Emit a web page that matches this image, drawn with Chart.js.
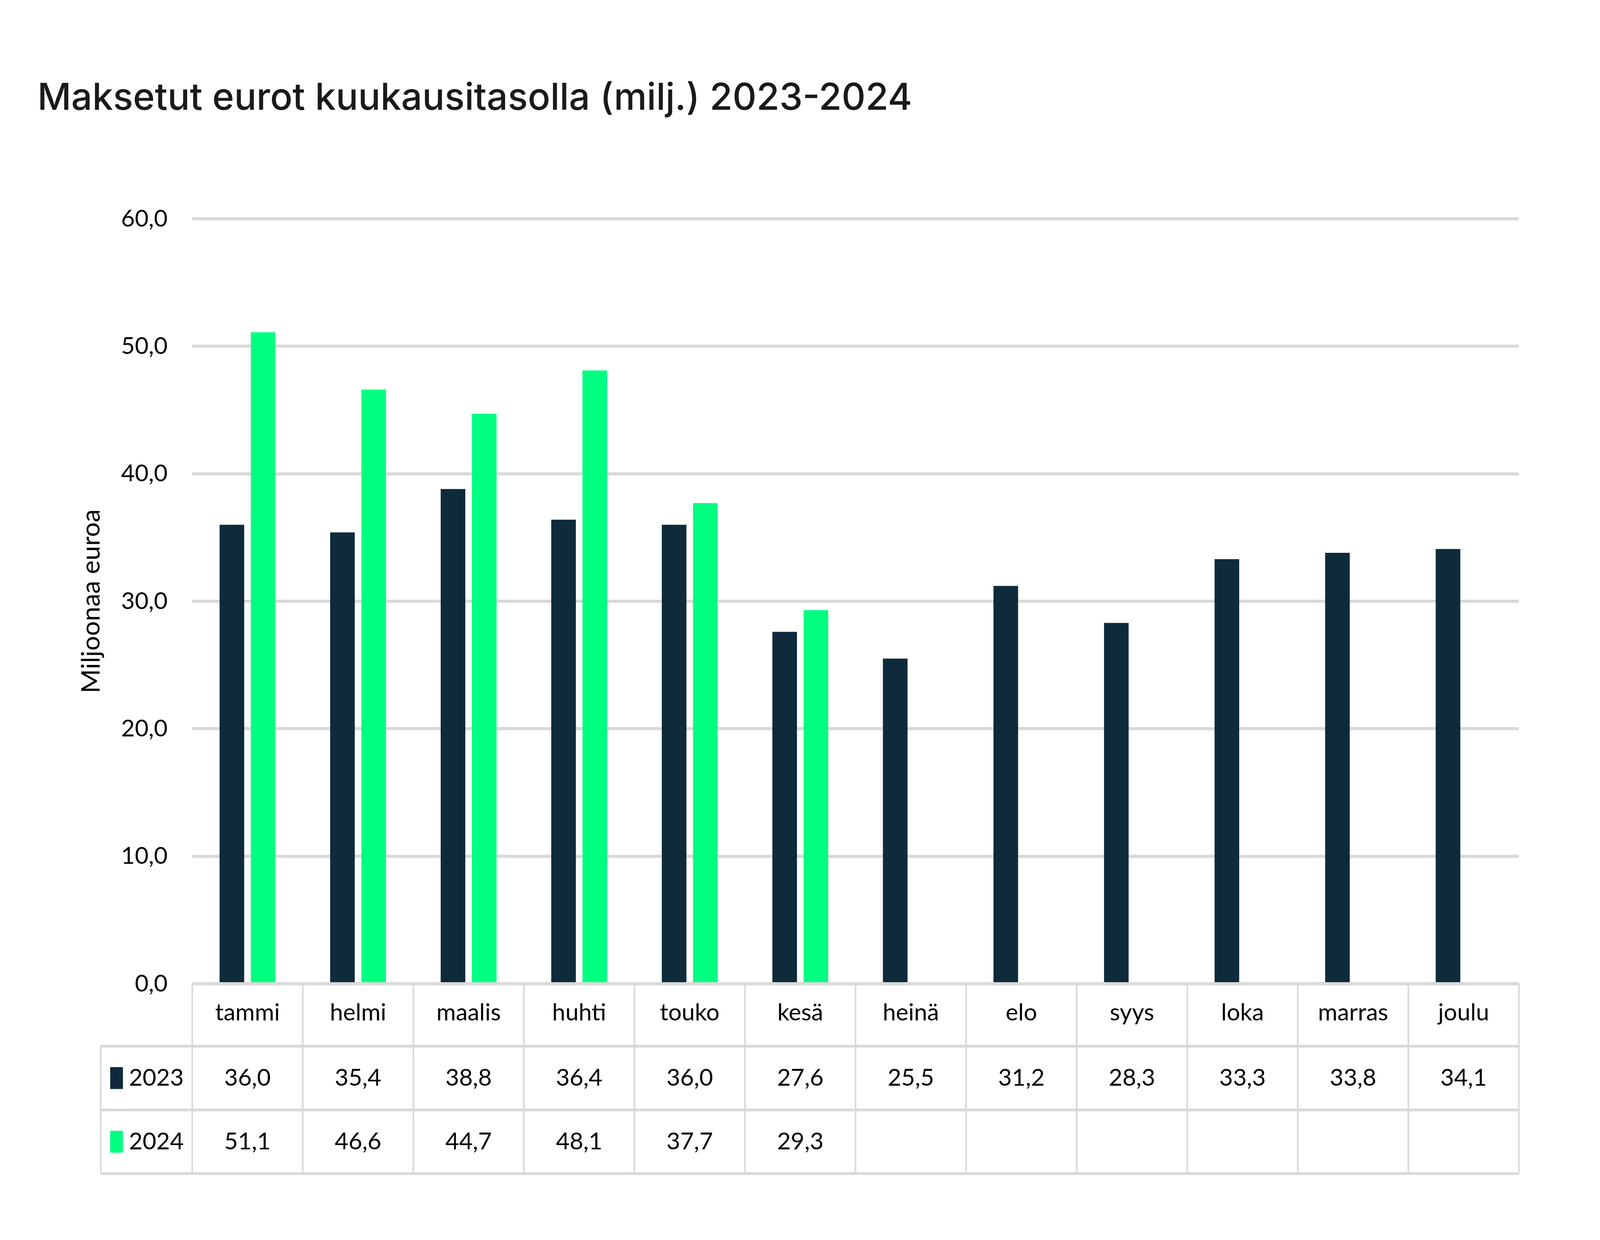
<!DOCTYPE html>
<html>
<head>
<meta charset="utf-8">
<script src="https://cdn.jsdelivr.net/npm/chart.js@4.4.1/dist/chart.umd.min.js"></script>
<style>
  html, body { margin: 0; padding: 0; background: #fff; overflow: hidden; }
  .wrap { width: 100vw; height: 100vh; }
</style>
</head>
<body>
<div class="wrap"><canvas class="chart"></canvas></div>
<script>
const months = ["tammi", "helmi", "maalis", "huhti", "touko", "kesä", "heinä", "elo", "syys", "loka", "marras", "joulu"];
const values2023 = [36.0, 35.4, 38.8, 36.4, 36.0, 27.6, 25.5, 31.2, 28.3, 33.3, 33.8, 34.1];
const values2024 = [51.1, 46.6, 44.7, 48.1, 37.7, 29.3, null, null, null, null, null, null];
const seriesNames = ["2023", "2024"];
const yTicks = [0, 10, 20, 30, 40, 50, 60];

const navy = "#0e2a3b";
const green = "#00ff80";
const lineGrey = "#d9d9d9";
const fmt = v => v.toFixed(1).replace(".", ",");

// sizes are measured on the 6767 x 3174 picture, scaled to the actual window
const SX = window.innerWidth / 6767;
const SY = window.innerHeight / 3174;
const X = v => v * SX;
const Y = v => v * SY;
const F = v => v * SX;

const titleSize = F(157);
const titlePadTop = Y(252) - titleSize * 0.6;
const titlePadBottom = Y(560) - titlePadTop - titleSize * 1.2;

// data table under the x axis, drawn from the same arrays
const dataTable = {
  id: "dataTable",
  afterDraw(chart) {
    const { ctx, chartArea, scales: { x } } = chart;
    const half = (x.getPixelForValue(1) - x.getPixelForValue(0)) / 2;
    const right = chartArea.right;
    const top = chartArea.bottom;
    const rows = [top, top + Y(160), top + Y(323), top + Y(486)];
    const legendLeft = X(426);

    ctx.save();
    ctx.strokeStyle = lineGrey;
    ctx.lineWidth = Y(7);
    ctx.beginPath();
    for (let r = 1; r < rows.length; r++) {
      ctx.moveTo(legendLeft, rows[r]);
      ctx.lineTo(right, rows[r]);
    }
    ctx.stroke();
    ctx.lineWidth = X(7);
    ctx.beginPath();
    ctx.moveTo(legendLeft, rows[1]);
    ctx.lineTo(legendLeft, rows[3]);
    for (let i = 0; i <= months.length; i++) {
      const xp = i < months.length ? x.getPixelForValue(i) - half : right;
      ctx.moveTo(xp, rows[0]);
      ctx.lineTo(xp, rows[3]);
    }
    ctx.stroke();

    ctx.fillStyle = "#000";
    ctx.font = F(100) + "px Lato";
    ctx.textAlign = "center";
    ctx.textBaseline = "middle";
    const series = [values2023, values2024];
    months.forEach((m, i) => {
      const cx = x.getPixelForValue(i);
      ctx.fillText(m, cx, (rows[0] + rows[1]) / 2 - Y(6));
      series.forEach((s, r) => {
        if (s[i] != null) ctx.fillText(fmt(s[i]), cx, (rows[r + 1] + rows[r + 2]) / 2);
      });
    });

    ctx.textAlign = "left";
    [navy, green].forEach((c, r) => {
      const cy = (rows[r + 1] + rows[r + 2]) / 2;
      ctx.fillStyle = c;
      ctx.fillRect(X(466), cy - Y(28), X(54), Y(56));
      ctx.fillStyle = "#000";
      ctx.fillText(seriesNames[r], X(545), cy);
    });
    ctx.restore();
  }
};

const ctx = document.querySelector(".chart");

new Chart(ctx, {
  type: "bar",
  data: {
    labels: months,
    datasets: [
      { label: seriesNames[0], data: values2023, backgroundColor: navy },
      { label: seriesNames[1], data: values2024, backgroundColor: green },
    ],
  },
  options: {
    responsive: true,
    maintainAspectRatio: false,
    animation: false,
    layout: { padding: { left: X(158), right: X(343), top: 0, bottom: 0 } },
    datasets: {
      bar: { categoryPercentage: 0.565, barPercentage: 0.788 }
    },
    scales: {
      x: {
        grid: { display: false },
        border: { display: false },
        ticks: { display: false },
        afterFit: s => { s.height = Y(656); },
      },
      y: {
        min: 0,
        max: 60,
        afterFit: s => { s.width = X(655); },
        afterBuildTicks: s => { s.ticks = yTicks.map(v => ({ value: v })); },
        grid: { color: lineGrey, lineWidth: Y(8), drawTicks: false },
        border: { display: false },
        ticks: {
          padding: X(104),
          color: "#000",
          font: { family: "Lato", size: F(100) },
          callback: v => fmt(v),
        },
        title: {
          display: true,
          text: "Miljoonaa euroa",
          color: "#000",
          font: { family: "Lato", size: F(110) },
          padding: { top: X(227) - F(66) },
        },
      },
    },
    plugins: {
      legend: { display: false },
      tooltip: { enabled: false },
      title: {
        display: true,
        text: "Maksetut eurot kuukausitasolla (milj.) 2023-2024",
        align: "start",
        color: "#1a1a1a",
        font: { family: "Inter", size: titleSize, weight: 500 },
        padding: { top: titlePadTop, bottom: titlePadBottom },
      },
    },
  },
  plugins: [dataTable],
});
</script>
</body>
</html>
